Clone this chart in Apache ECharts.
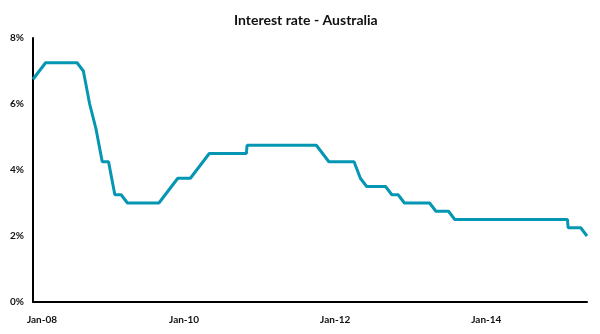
<!DOCTYPE html>
<html>
<head>
<meta charset="utf-8">
<script src="https://cdn.jsdelivr.net/npm/echarts@6/dist/echarts.min.js"></script>
<style>
  html, body { margin: 0; padding: 0; background: #fff; }
  #chart { width: 600px; height: 334px; }
</style>
</head>
<body>
<div id="chart"></div>
<script>
// RBA cash rate target, sampled at the start of each month (two extra late-month readings mark same-month moves)
const periods = [
  '2008-01','2008-02','2008-03','2008-04','2008-05','2008-06','2008-07','2008-08','2008-09','2008-10','2008-11','2008-12',
  '2009-01','2009-02','2009-03','2009-04','2009-05','2009-06','2009-07','2009-08','2009-09','2009-10','2009-11','2009-12',
  '2010-01','2010-02','2010-03','2010-04','2010-05','2010-06','2010-07','2010-08','2010-09','2010-10','2010-10-28','2010-11','2010-12',
  '2011-01','2011-02','2011-03','2011-04','2011-05','2011-06','2011-07','2011-08','2011-09','2011-10','2011-11','2011-12',
  '2012-01','2012-02','2012-03','2012-04','2012-05','2012-06','2012-07','2012-08','2012-09','2012-10','2012-11','2012-12',
  '2013-01','2013-02','2013-03','2013-04','2013-05','2013-06','2013-07','2013-08','2013-09','2013-10','2013-11','2013-12',
  '2014-01','2014-02','2014-03','2014-04','2014-05','2014-06','2014-07','2014-08','2014-09','2014-10','2014-11','2014-12',
  '2015-01','2015-01-28','2015-02','2015-03','2015-04','2015-05'
];
const rates = [
  6.75, 7.00, 7.25, 7.25, 7.25, 7.25, 7.25, 7.25, 7.00, 6.00, 5.25, 4.25,
  4.25, 3.25, 3.25, 3.00, 3.00, 3.00, 3.00, 3.00, 3.00, 3.25, 3.50, 3.75,
  3.75, 3.75, 4.00, 4.25, 4.50, 4.50, 4.50, 4.50, 4.50, 4.50, 4.50, 4.75, 4.75,
  4.75, 4.75, 4.75, 4.75, 4.75, 4.75, 4.75, 4.75, 4.75, 4.75, 4.50, 4.25,
  4.25, 4.25, 4.25, 4.25, 3.75, 3.50, 3.50, 3.50, 3.50, 3.25, 3.25, 3.00,
  3.00, 3.00, 3.00, 3.00, 2.75, 2.75, 2.75, 2.50, 2.50, 2.50, 2.50, 2.50,
  2.50, 2.50, 2.50, 2.50, 2.50, 2.50, 2.50, 2.50, 2.50, 2.50, 2.50, 2.50,
  2.50, 2.50, 2.25, 2.25, 2.25, 2.00
];
const yTicks = [0, 2, 4, 6, 8];
const monthNames = ['Jan','Feb','Mar','Apr','May','Jun','Jul','Aug','Sep','Oct','Nov','Dec'];

const START_YEAR = 2008;
// month offset from Jan 2008 (day of month adds a fraction)
function monthOffset(p) {
  const parts = p.split('-').map(Number);
  const day = parts[2] ? (parts[2] - 1) / 30 : 0;
  return (parts[0] - START_YEAR) * 12 + (parts[1] - 1) + day;
}
function monthLabel(v) {
  const y = START_YEAR + Math.floor(v / 12);
  return monthNames[v % 12] + '-' + String(y).slice(2);
}

const seriesData = periods.map((p, i) => [monthOffset(p), rates[i]]);
const FONT = 'Lato';

const chart = echarts.init(document.getElementById('chart'), null, { renderer: 'canvas' });
chart.setOption({
  animation: false,
  backgroundColor: '#ffffff',
  title: {
    text: 'Interest rate - Australia',
    left: 229,
    top: 8,
    textStyle: { fontFamily: FONT, fontSize: 14, fontWeight: 'bold', color: '#111' }
  },
  grid: { left: 33, right: 13, top: 38, bottom: 32, containLabel: false },
  xAxis: {
    type: 'value',
    min: 0,
    max: 88,
    interval: 24,
    splitLine: { show: false },
    axisTick: { show: false },
    axisLine: { show: true, onZero: false, lineStyle: { color: '#000', width: 2 } },
    axisLabel: {
      showMaxLabel: false,
      margin: 13,
      fontFamily: FONT, fontSize: 10, fontWeight: 'bold', color: '#111',
      formatter: v => (v % 24 === 0 ? (v === 0 ? '{first|' + monthLabel(v) + '}' : monthLabel(v)) : ''),
      rich: {
        first: { fontFamily: FONT, fontSize: 10, fontWeight: 'bold', color: '#111', padding: [0, 0, 0, 18] }
      }
    }
  },
  yAxis: {
    type: 'value',
    min: yTicks[0],
    max: yTicks[yTicks.length - 1],
    interval: 2,
    splitLine: { show: false },
    axisTick: { show: false },
    axisLine: { show: true, lineStyle: { color: '#000', width: 2 } },
    axisLabel: {
      margin: 9,
      fontFamily: FONT, fontSize: 10, fontWeight: 'bold', color: '#111',
      formatter: v => v + '%'
    }
  },
  series: [{
    type: 'line',
    data: seriesData,
    showSymbol: false,
    symbol: 'none',
    lineStyle: { color: '#0596b3', width: 3 },
    itemStyle: { color: '#0596b3' }
  }]
});
</script>
</body>
</html>
